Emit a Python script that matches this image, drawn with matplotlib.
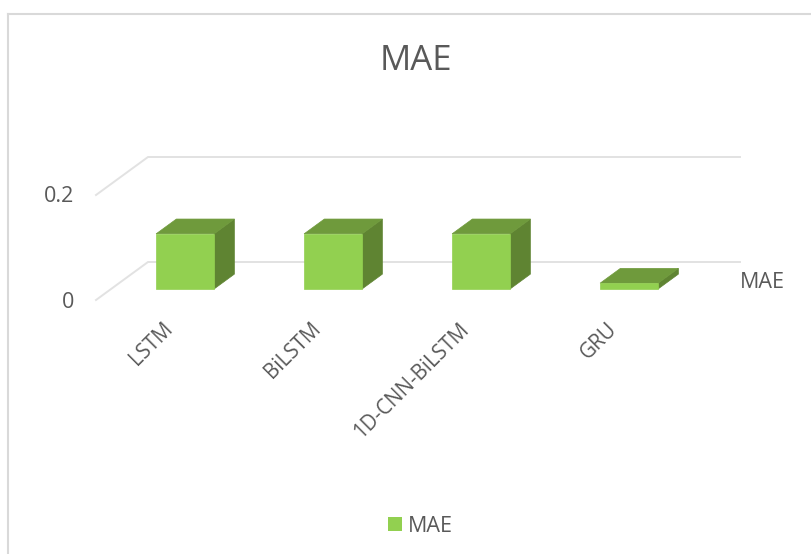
"""
MAE 비교 차트 - 엑셀 스타일 3D 막대
"""

import matplotlib
matplotlib.use('Agg')
import matplotlib.pyplot as plt
from matplotlib.patches import Polygon, Rectangle
from matplotlib.lines import Line2D

plt.rcParams['font.family'] = ['Open Sans', 'DejaVu Sans']

models = ['LSTM', 'BiLSTM', '1D-CNN-BiLSTM', 'GRU']
mae_values = [0.105, 0.105, 0.105, 0.011]
y_ticks = [0, 0.2]
y_tick_labels = ['0', '0.2']
series_name = 'MAE'

W, H = 812, 554

# 바닥 깊이 1 당 이동량 (데이터 단위)
DEPTH_X = 52 / 148
DEPTH_Y = 38 / 105 * 0.2
BAR_W = 58 / 148
BAR_D0 = 0.29
BAR_D1 = 0.68

TEXT_COLOR = '#595959'
GRID_COLOR = '#e2e2e2'
FRONT = '#92d050'
TOP = '#6f9a3c'
SIDE = '#5f8432'


def project(x, y, d):
    return x + DEPTH_X * d, y + DEPTH_Y * d


def draw_bar(ax, x, value):
    x0, x1 = x - BAR_W / 2, x + BAR_W / 2
    front = [project(x0, 0, BAR_D0), project(x1, 0, BAR_D0),
             project(x1, value, BAR_D0), project(x0, value, BAR_D0)]
    top = [project(x0, value, BAR_D0), project(x1, value, BAR_D0),
           project(x1, value, BAR_D1), project(x0, value, BAR_D1)]
    side = [project(x1, 0, BAR_D0), project(x1, 0, BAR_D1),
            project(x1, value, BAR_D1), project(x1, value, BAR_D0)]
    ax.add_patch(Polygon(side, fc=SIDE, ec=SIDE, lw=0.5, clip_on=False, zorder=3))
    ax.add_patch(Polygon(top, fc=TOP, ec=TOP, lw=0.5, clip_on=False, zorder=3))
    ax.add_patch(Polygon(front, fc=FRONT, ec=FRONT, lw=0.5, clip_on=False, zorder=4))


def main():
    fig = plt.figure(figsize=(W / 100, H / 100), dpi=100)

    # 차트 테두리 (왼쪽, 위쪽만 보임)
    fig.add_artist(Line2D([8 / W, 8 / W], [0, 1 - 14 / H], color='#d9d9d9', lw=1.5))
    fig.add_artist(Line2D([8 / W, 1], [1 - 14 / H, 1 - 14 / H], color='#d9d9d9', lw=1.5))

    # x: 96~688 px, y: 0 -> 300 px, 0.2 -> 195 px
    ax = fig.add_axes([96 / W, 1 - 300 / H, 592 / W, 105 / H])
    ax.set_xlim(-0.5, 3.5)
    ax.set_ylim(0, 0.2)
    ax.axis('off')

    for tick, label in zip(y_ticks, y_tick_labels):
        x0, y0 = project(-0.5, tick, 0)
        x1, y1 = project(-0.5, tick, 1)
        x2, y2 = project(3.5, tick, 1)
        ax.plot([x0, x1, x2], [y0, y1, y2], color=GRID_COLOR, lw=1.4,
                clip_on=False, zorder=1, solid_joinstyle='miter')
        ax.annotate(label, xy=(-0.5, tick), xytext=(-22, -2), textcoords='offset pixels',
                    ha='right', va='center', fontsize=15.5, color=TEXT_COLOR)

    for i, value in enumerate(mae_values):
        draw_bar(ax, i, value)

    # 기울어진 x축 라벨
    for i, name in enumerate(models):
        ax.annotate(name, xy=(i, 0), xytext=(0, -26), textcoords='offset pixels',
                    ha='right', va='center', rotation=45, rotation_mode='anchor',
                    fontsize=14.8, color=TEXT_COLOR, annotation_clip=False)

    # 깊이축 라벨
    ax.annotate(series_name, xy=(3.5, 0), xytext=(52, 17), textcoords='offset pixels',
                ha='left', va='center', fontsize=15.5, color=TEXT_COLOR, annotation_clip=False)

    fig.text(416 / W, 1 - 61 / H, series_name, ha='center', va='center',
             fontsize=25, color=TEXT_COLOR)

    # 범례
    fig.add_artist(Rectangle((388 / W, 1 - 531 / H), 14 / W, 14 / H,
                             transform=fig.transFigure, fc=FRONT, ec='none'))
    fig.text(408 / W, 1 - 526 / H, series_name, ha='left', va='center',
             fontsize=15.5, color=TEXT_COLOR)

    fig.savefig('out.png', dpi=100)


if __name__ == '__main__':
    main()
